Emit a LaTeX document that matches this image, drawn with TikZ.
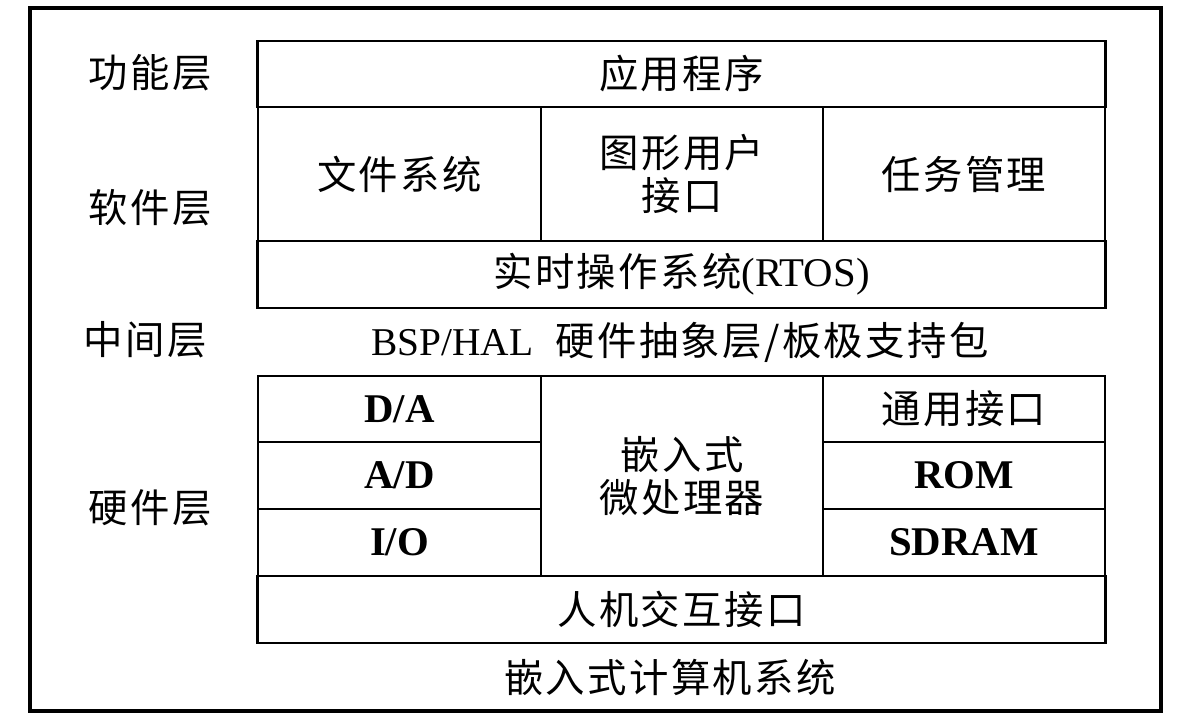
\documentclass[tikz,border=0pt]{standalone}
\usepackage{fontspec}
\setmainfont{Liberation Serif}
\newfontfamily\cjk[LetterSpace=6]{Noto Sans CJK SC}
\usepackage{tikz}

\begin{document}
\begin{tikzpicture}[x=0.025cm,y=-0.025cm,
    cell/.style 2 args={draw,line width=2pt,inner sep=0pt,minimum width=#1,minimum height=#2,
      font=\cjk\fontsize{28}{31}\selectfont,align=center},
    lab/.style={font=\cjk\fontsize{28}{31}\selectfont},
    eng/.style={font=\rmfamily\bfseries\fontsize{29}{31}\selectfont}]
    \useasboundingbox (0,0) rectangle (1190,715);
    \draw[line width=2.2pt] (30,8) rectangle (1161,711);

    % software part
    \node[cell={21.175cm}{1.65cm}] (app) at (681.5,74) {应用程序};
    \node[cell={7.075cm}{3.35cm}] (fs) at (399.5,174) {文件系统};
    \node[cell={7.05cm}{3.35cm}] (gui) at (682,174) {图形用户\\接口};
    \node[cell={7.05cm}{3.35cm}] (task) at (964,174) {任务管理};
    \node[cell={21.175cm}{1.675cm}] (rtos) at (681.5,274.5) {实时操作系统{\rmfamily\fontsize{29}{31}\selectfont(RTOS)}};

    % hardware part
    \node[cell={7.075cm}{1.65cm},eng] (da) at (399.5,409) {D/A};
    \node[cell={7.075cm}{1.675cm},eng] (ad) at (399.5,475.5) {A/D};
    \node[cell={7.075cm}{1.675cm},eng] (io) at (399.5,542.5) {I/O};
    \node[cell={7.05cm}{5cm}] (cpu) at (682,476) {嵌入式\\微处理器};
    \node[cell={7.05cm}{1.65cm}] (gen) at (964,409) {通用接口};
    \node[cell={7.05cm}{1.675cm},eng] (rom) at (964,475.5) {ROM};
    \node[cell={7.05cm}{1.675cm},eng] (sdram) at (964,542.5) {SDRAM};
    \node[cell={21.175cm}{1.675cm}] (hmi) at (681.5,609.5) {人机交互接口};

    % layer names
    \node[lab] (func) at (150,73) {功能层};
    \node[lab] (soft) at (150,208) {软件层};
    \node[lab] (midl) at (145,340) {中间层};
    \node[lab] (hard) at (150,508) {硬件层};
    \node[lab] (bsp) at (680,342) {{\rmfamily BSP/HAL}\ \ 硬件抽象层/板极支持包};
    \node[lab] (sys) at (670,677) {嵌入式计算机系统};
\end{tikzpicture}
\end{document}
